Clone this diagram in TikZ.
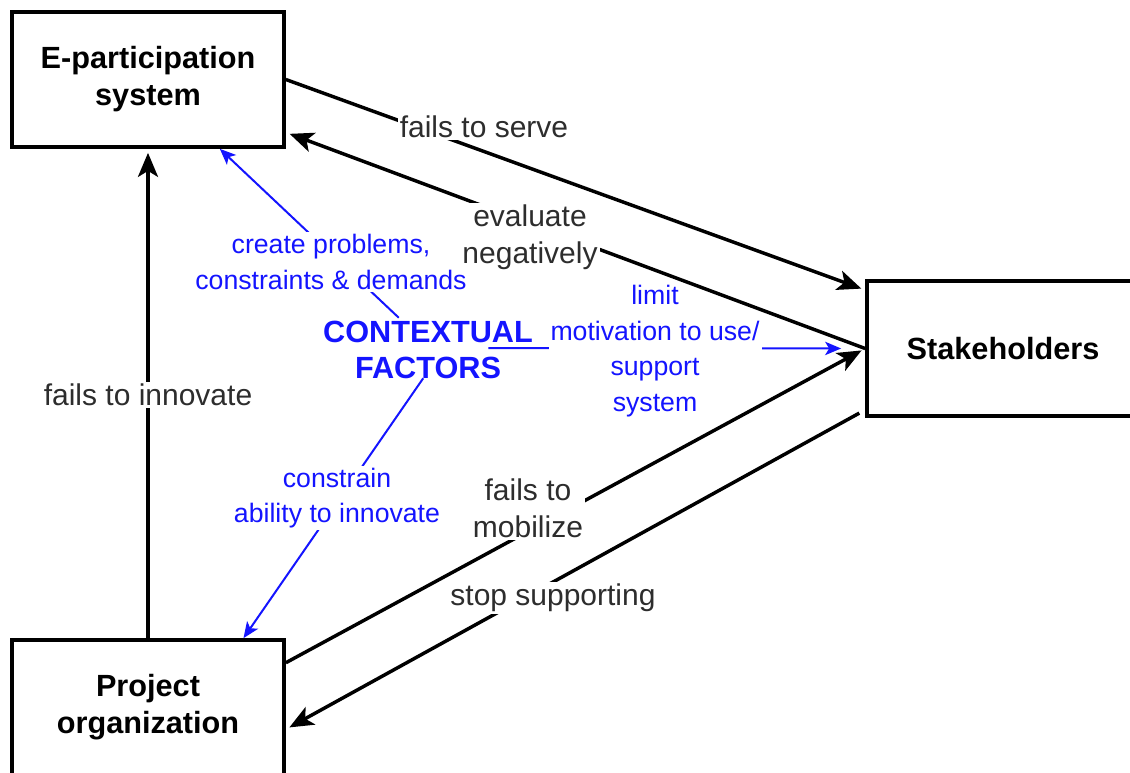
\documentclass[tikz,border=0pt]{standalone}
\usepackage{fontspec}
\setmainfont{Liberation Sans}
\usetikzlibrary{arrows.meta}
\definecolor{ctxblue}{RGB}{20,20,255}
\definecolor{labelgray}{RGB}{45,45,45}
\begin{document}
\begin{tikzpicture}[x=0.75pt,y=-0.75pt,
  box/.style={draw=black, line width=2.8pt, minimum width=204pt, minimum height=101.25pt,
    inner sep=0pt, align=center, font=\fontsize{23}{27.75}\selectfont\bfseries},
  flow/.style={line width=2.6pt, -{Stealth[length=18pt,width=15pt,inset=4.5pt]}, shorten >=3pt},
  influence/.style={draw=ctxblue, line width=1.5pt, -{Stealth[length=12pt,width=10pt,inset=3pt]}},
  flowlabel/.style={fill=white, inner sep=1.5pt, align=center, text=labelgray,
    font=\fontsize{22.5}{27.75}\selectfont},
  influencelabel/.style={fill=white, inner sep=1.5pt, align=center, text=ctxblue,
    font=\fontsize{20}{26.85}\selectfont},
  factors/.style={text=ctxblue, align=center, inner sep=0pt,
    font=\fontsize{23}{27}\selectfont\bfseries},
]
\useasboundingbox (0,0) rectangle (1130,772);
\clip (0,0) rectangle (1130,772);

% actors
\node[box] (ep) at (148,79.5) {E-participation\\system};
\node[box] (sh) at (1003,348.5) {Stakeholders};
\node[box] (po) at (148,707.5) {Project\\organization};

% frame of the contextual factors
\node[minimum width=90pt, minimum height=45pt, inner sep=0pt] (ctx) at (428,348) {};

% influence of the contextual factors (drawn beneath the black loop)
\draw[influence] (ctx.134) -- (ep.-44.4);
\draw[influence] (ctx.-99.5) -- (po.36.5);
\draw[influence, shorten >=18pt] (ctx.east) -- (sh.west);

\node[influencelabel] (lcreate) at (331,262) {create problems,\\constraints \& demands};
\node[influencelabel] (llimit) at (655,351) {limit\\motivation to use/\\support\\system};
\node[influencelabel] (lconstrain) at (337,498) {constrain\\ability to innovate};

\node[factors] (ctxtext) at (428,350) {CONTEXTUAL\\FACTORS};

% feedback loop between the actors
\draw[flow] (ep.east) -- (sh.157);
\draw[flow] (sh.west) -- (ep.-21.5);
\draw[flow] (po.north) -- (ep.south);
\draw[flow] (po.18) -- (sh.west);
\draw[flow, shorten <=5pt] (sh.-156) -- (po.-9.6);

\node[flowlabel] (lserve) at (484,127) {fails to serve};
\node[flowlabel] (leval) at (530,237) {evaluate\\negatively};
\node[flowlabel] (linnov) at (148,395) {fails to innovate};
\node[flowlabel] (lmob) at (528,508) {fails to\\mobilize};
\node[flowlabel] (lstop) at (553,598) {stop supporting};
\end{tikzpicture}
\end{document}
